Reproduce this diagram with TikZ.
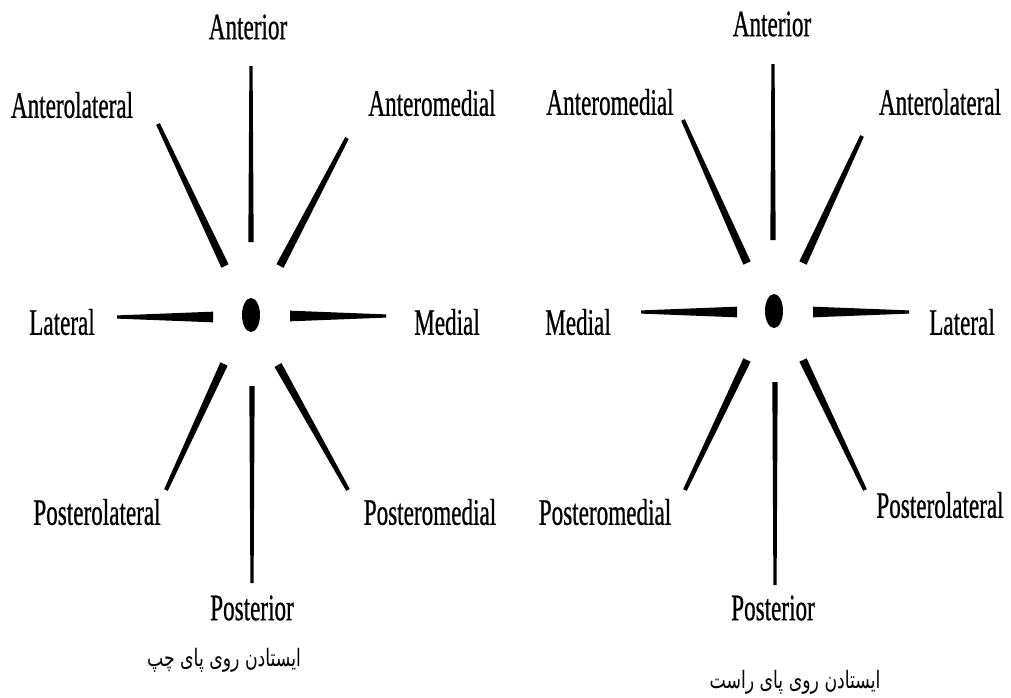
\documentclass[tikz,border=0pt]{standalone}
\usepackage{fontspec}
\usepackage{tikz}
\usetikzlibrary{calc,shapes.geometric}
\TeXXeTstate=1
\newfontfamily\lblfont[FakeStretch=0.62,FakeBold=0.6]{Liberation Serif}
\newfontfamily\farsi[Script=Arabic,FakeStretch=0.72]{DejaVu Sans}
\newcommand{\spoke}[4]{%
  \fill ($(#1)!#3!90:(#2)$) -- ($(#1)!#3!-90:(#2)$)
     -- ($(#2)!#4!90:(#1)$) -- ($(#2)!#4!-90:(#1)$) -- cycle;}
\tikzset{
  lbl/.style={font=\lblfont\fontsize{28}{30}\selectfont, inner sep=0pt},
  footcap/.style={font=\farsi\fontsize{18}{20}\selectfont, inner sep=0pt},
  dot/.style={ellipse, fill=black, inner sep=0pt,
              minimum width=13.5pt, minimum height=25.5pt}
}

\begin{document}
\begin{tikzpicture}[x=0.75pt,y=-0.75pt]
  \useasboundingbox (0,0) rectangle (1011,697);
  % left foot
  \node[dot] (Lc) at (251,315) {};
  \coordinate (Lai) at (251,242); \coordinate (Lao) at (251, 66);
  \coordinate (Lpi) at (252,386); \coordinate (Lpo) at (252,583);
  \coordinate (Lli) at (213,317); \coordinate (Llo) at (117,317);
  \coordinate (Lmi) at (290,316); \coordinate (Lmo) at (386,316);
  \coordinate (Lali) at (225,266); \coordinate (Lalo) at (158,124);
  \coordinate (Lami) at (280,266); \coordinate (Lamo) at (347,138);
  \coordinate (Lpli) at (224,364); \coordinate (Lplo) at (166,490);
  \coordinate (Lpmi) at (278,365); \coordinate (Lpmo) at (348,490);
  \spoke{Lai}{Lao}{2pt}{1.2pt}
  \spoke{Lpi}{Lpo}{2pt}{1.2pt}
  \spoke{Lli}{Llo}{4pt}{1.2pt}
  \spoke{Lmi}{Lmo}{4pt}{1.2pt}
  \spoke{Lali}{Lalo}{3pt}{1.5pt}
  \spoke{Lami}{Lamo}{3pt}{1.5pt}
  \spoke{Lpli}{Lplo}{3pt}{1.5pt}
  \spoke{Lpmi}{Lpmo}{3pt}{1.5pt}
  \node[lbl] (La)  at (248, 27) {Anterior};
  \node[lbl] (Lal) at ( 72,105) {Anterolateral};
  \node[lbl] (Lam) at (432,103) {Anteromedial};
  \node[lbl] (Ll)  at ( 62,322) {Lateral};
  \node[lbl] (Lm)  at (447,322) {Medial};
  \node[lbl] (Lpl) at ( 97,512) {Posterolateral};
  \node[lbl] (Lpm) at (430,512) {Posteromedial};
  \node[lbl] (Lp)  at (252,608) {Posterior};
  \node[footcap] (Lcap) at (224,660) {\beginR ایستادن روی پای چپ\endR};
  % right foot
  \node[dot] (Rc) at (774,311) {};
  \coordinate (Rai) at (773,240); \coordinate (Rao) at (773, 64);
  \coordinate (Rpi) at (775,382); \coordinate (Rpo) at (775,585);
  \coordinate (Rmi) at (737,312); \coordinate (Rmo) at (641,312);
  \coordinate (Rli) at (813,312); \coordinate (Rlo) at (909,312);
  \coordinate (Rami) at (747,263); \coordinate (Ramo) at (683,120);
  \coordinate (Rali) at (803,263); \coordinate (Ralo) at (862,136);
  \coordinate (Rpmi) at (747,360); \coordinate (Rpmo) at (685,490);
  \coordinate (Rpli) at (803,360); \coordinate (Rplo) at (865,490);
  \spoke{Rai}{Rao}{2pt}{1.2pt}
  \spoke{Rpi}{Rpo}{2pt}{1.2pt}
  \spoke{Rmi}{Rmo}{4pt}{1.2pt}
  \spoke{Rli}{Rlo}{4pt}{1.2pt}
  \spoke{Rami}{Ramo}{3pt}{1.5pt}
  \spoke{Rali}{Ralo}{3pt}{1.5pt}
  \spoke{Rpmi}{Rpmo}{3pt}{1.5pt}
  \spoke{Rpli}{Rplo}{3pt}{1.5pt}
  \node[lbl] (Ra)  at (772, 24) {Anterior};
  \node[lbl] (Ram) at (610,102) {Anteromedial};
  \node[lbl] (Ral) at (940,102) {Anterolateral};
  \node[lbl] (Rm)  at (578,322) {Medial};
  \node[lbl] (Rl)  at (962,322) {Lateral};
  \node[lbl] (Rpm) at (605,512) {Posteromedial};
  \node[lbl] (Rpl) at (940,505) {Posterolateral};
  \node[lbl] (Rp)  at (773,608) {Posterior};
  \node[footcap] (Rcap) at (795,682) {\beginR ایستادن روی پای راست\endR};
\end{tikzpicture}
\end{document}
